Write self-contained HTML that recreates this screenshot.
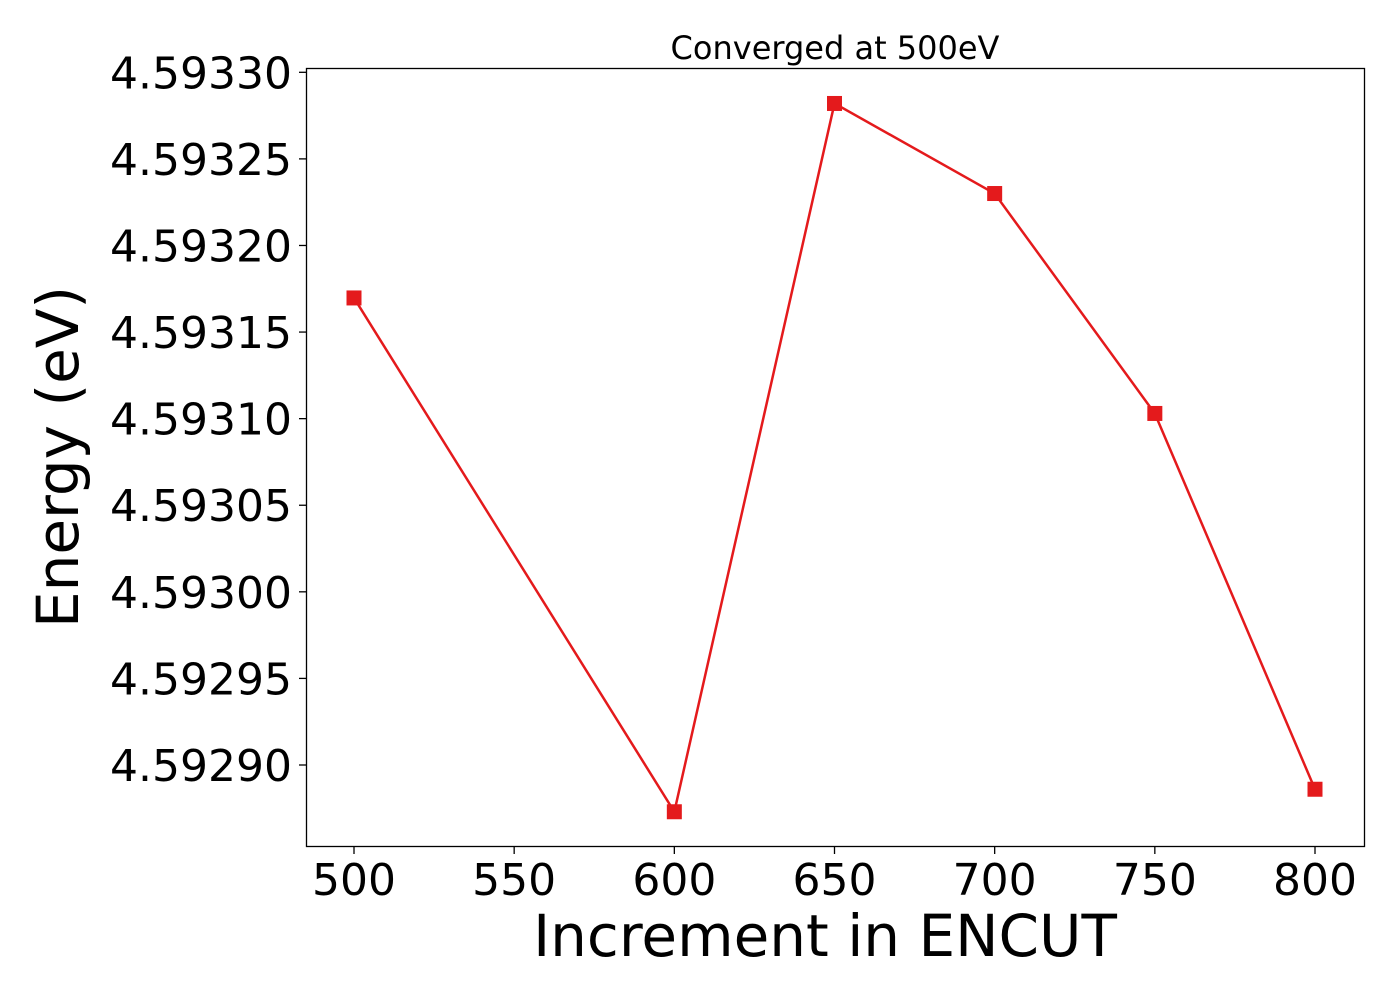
<!DOCTYPE html>
<html><head><meta charset="utf-8"><style>
html,body{margin:0;padding:0;background:#fff;}
svg{display:block;font-family:"DejaVu Sans","Liberation Sans",sans-serif;}
</style></head><body>
<svg id="chart" width="1400" height="1000">
<text x="835" y="59" font-size="32" text-anchor="middle">Converged at 500eV</text>
<g id="axes"></g>
<g id="marks"></g>
<rect x="306.5" y="68.5" width="1058" height="778" fill="none" stroke="#000" stroke-width="1.3"/>
<text x="825" y="956" font-size="58" text-anchor="middle">Increment in ENCUT</text>
<text transform="translate(78,457) rotate(-90)" font-size="58" text-anchor="middle">Energy (eV)</text>
</svg>
<script>
const xValues=[500,600,650,700,750,800];
const energies=[4.5931697,4.592873,4.593282,4.593230,4.593103,4.592886];
const xTicks=[500,550,600,650,700,750,800];
const yTicks=[4.5929,4.59295,4.593,4.59305,4.5931,4.59315,4.5932,4.59325,4.5933];
const yTickLabels=["4.59290","4.59295","4.59300","4.59305","4.59310","4.59315","4.59320","4.59325","4.59330"];
const NS="http://www.w3.org/2000/svg";
function xs(v){return 354+(v-500)*(1315-354)/300;}
function ys(v){return 765-(v-4.5929)*(765-72.3)/0.0004;}
const axes=document.getElementById('axes'),marks=document.getElementById('marks');
function mk(tag,attrs,parent){const e=document.createElementNS(NS,tag);for(const k in attrs)e.setAttribute(k,attrs[k]);parent.appendChild(e);return e;}
xTicks.forEach(t=>{
 const l=mk('line',{x1:xs(t),x2:xs(t),y1:847,y2:854,stroke:'#000','stroke-width':1.3},axes);
 
 
 const tx=mk('text',{x:xs(t),y:895,'font-size':44,'text-anchor':'middle'},axes);
 tx.textContent=t;
 
 
});
yTicks.forEach((t,i)=>{
 const l=mk('line',{x1:299,x2:306,y1:ys(t),y2:ys(t),stroke:'#000','stroke-width':1.3},axes);
 
 
 const tx=mk('text',{x:292,y:ys(t)+16,'font-size':44,'text-anchor':'end'},axes);
 tx.textContent=yTickLabels[i];
 
 
});
const pts=xValues.map((v,i)=>xs(v)+','+ys(energies[i])).join(' ');
const pl=mk('polyline',{points:pts,fill:'none',stroke:'#e41a1c','stroke-width':2.5},marks);


xValues.forEach((v,i)=>{
 const r=mk('rect',{x:xs(v)-7.5,y:ys(energies[i])-7.5,width:15,height:15,fill:'#e41a1c'},marks);
 
 
});
</script>
</body></html>
